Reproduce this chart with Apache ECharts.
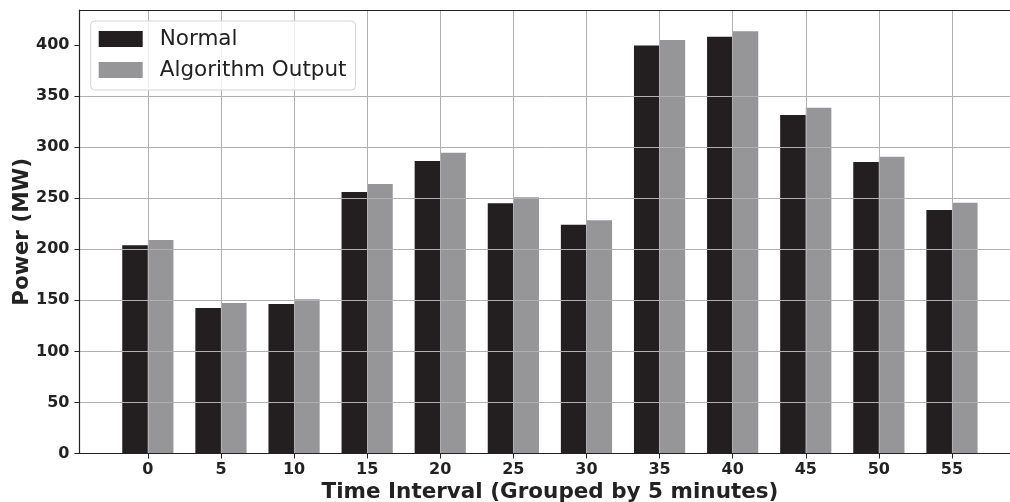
<!DOCTYPE html>
<html>
<head>
<meta charset="utf-8">
<script src="https://cdn.jsdelivr.net/npm/echarts@6/dist/echarts.min.js"></script>
<style>
  html, body { margin: 0; padding: 0; background: #fff; }
  #chart { width: 1010px; height: 502px; }
</style>
</head>
<body>
<div id="chart"></div>
<script>
// Time intervals (minutes, grouped by 5)
const categories = ['0', '5', '10', '15', '20', '25', '30', '35', '40', '45', '50', '55'];
// Power per interval (MW)
const normalValues = [204, 142.5, 146.5, 256, 286.5, 245, 224, 399.5, 408, 331.5, 285.5, 238.5];
const algorithmValues = [209, 147.5, 151, 264, 294.5, 251, 228.5, 405, 413.5, 338.5, 290.5, 245.5];
const yTicks = [0, 50, 100, 150, 200, 250, 300, 350, 400];

const positions = categories.map((_, i) => i);
const font = 'DejaVu Sans';
const ink = '#222222';
const gridColor = '#b0b0b0';
// x range: margin on the left of the first bar; plot runs past the right edge
const xMin = -0.935;
const xMax = 12.341;

const chart = echarts.init(document.getElementById('chart'), null, { renderer: 'canvas' });

chart.setOption({
  animation: false,
  backgroundColor: '#ffffff',
  textStyle: { fontFamily: font },
  grid: {
    left: 79.5,
    right: -40,
    top: 10,
    bottom: 48.5,
    outerBoundsMode: 'none'
  },
  legend: {
    left: 90.7,
    top: 21,
    orient: 'vertical',
    z: 20,
    itemWidth: 44,
    itemHeight: 16,
    itemGap: 7,
    padding: [6, 9, 8, 8],
    backgroundColor: 'rgba(255,255,255,0.8)',
    borderColor: '#d6d6d6',
    borderWidth: 1,
    borderRadius: 4,
    icon: 'rect',
    textStyle: {
      fontFamily: font,
      fontSize: 21.5,
      color: ink,
      lineHeight: 24,
      padding: [0, 0, 0, 12]
    },
    data: ['Normal', 'Algorithm Output']
  },
  xAxis: [
    {
      type: 'value',
      min: xMin,
      max: xMax,
      z: 10,
      name: 'Time Interval (Grouped by 5 minutes)',
      nameLocation: 'middle',
      nameGap: 28,
      nameMoveOverlap: false,
      nameTextStyle: { fontFamily: font, fontSize: 21.5, fontWeight: 'bold', color: ink, padding: [0, 29.5, 0, 0] },
      axisLine: { show: true, onZero: false, lineStyle: { color: ink, width: 1.2 } },
      axisTick: { show: true, length: 5, customValues: positions, lineStyle: { color: ink, width: 1 } },
      axisLabel: {
        customValues: positions,
        margin: 8,
        fontFamily: font,
        fontSize: 16,
        fontWeight: 'bold',
        color: ink,
        formatter: v => categories[Math.round(v)]
      },
      splitLine: { show: true, lineStyle: { color: gridColor, width: 1 } }
    },
    {
      // top frame line
      type: 'value',
      position: 'top',
      min: xMin,
      max: xMax,
      z: 11,
      axisLine: { show: true, onZero: false, lineStyle: { color: ink, width: 1.2 } },
      axisTick: { show: false },
      axisLabel: { show: false },
      splitLine: { show: false }
    }
  ],
  yAxis: {
    type: 'value',
    min: 0,
    max: 434.3,
    interval: 50,
    z: 10,
    name: 'Power (MW)',
    nameLocation: 'middle',
    nameGap: 46,
    nameMoveOverlap: false,
    nameTextStyle: { fontFamily: font, fontSize: 21.5, fontWeight: 'bold', color: ink },
    axisLine: { show: true, onZero: false, lineStyle: { color: ink, width: 1.2 } },
    axisTick: { show: true, length: 5, customValues: yTicks, lineStyle: { color: ink, width: 1 } },
    axisLabel: {
      customValues: yTicks,
      margin: 10,
      fontFamily: font,
      fontSize: 16,
      fontWeight: 'bold',
      color: ink
    },
    splitLine: { show: true, showMaxLine: false, lineStyle: { color: gridColor, width: 1 } }
  },
  series: [
    {
      name: 'Normal',
      type: 'bar',
      barWidth: 25.6,
      barGap: '0%',
      itemStyle: { color: '#231f20' },
      data: positions.map(i => [i, normalValues[i]])
    },
    {
      name: 'Algorithm Output',
      type: 'bar',
      barWidth: 25.6,
      barGap: '0%',
      itemStyle: { color: '#969698' },
      data: positions.map(i => [i, algorithmValues[i]])
    }
  ]
});
</script>
</body>
</html>
